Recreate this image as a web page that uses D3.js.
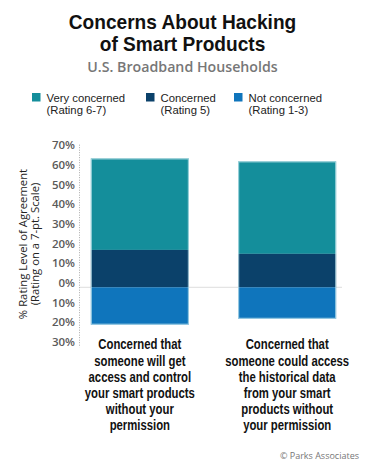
<!DOCTYPE html>
<html><head><meta charset="utf-8">
<script src="https://cdn.jsdelivr.net/npm/d3@7"></script>
<style>
body{margin:0;background:#fff;}
svg{display:block;}
</style></head>
<body>
<svg id="c" width="365" height="470"></svg>
<script>
const categories = [
  ["Concerned that","someone will get","access and control","your smart products","without your","permission"],
  ["Concerned that","someone could access","the historical data","from your smart","products without","your permission"]
];
const seriesNames = [["Very concerned","(Rating 6-7)"],["Concerned","(Rating 5)"],["Not concerned","(Rating 1-3)"]];
const veryConcerned = [46.5, 47];
const concerned = [19, 17];
const notConcerned = [19, 16];
const tickValues = [70,60,50,40,30,20,10,0,-10,-20,-30];
const colors = ["#148e9b","#0b416a","#0f75bc"];

const svg = d3.select("#c");
const font = "'Open Sans', sans-serif";
const catFont = "'Liberation Sans', Arial, sans-serif";

// Title
const tg = svg.append("g").attr("transform","translate(182.5,0) scale(0.98,1)");
const tt = tg.append("text").attr("text-anchor","middle")
  .attr("font-family",catFont).attr("font-weight",700).attr("font-size",19.5).attr("fill","#111");
tt.append("tspan").attr("x",0).attr("y",29).text("Concerns About Hacking");
tt.append("tspan").attr("x",0).attr("y",51).text("of Smart Products");
svg.append("text").attr("x",182.5).attr("y",72).attr("text-anchor","middle")
  .attr("font-family",font).attr("font-weight",600).attr("font-size",14.2).attr("fill","#777")
  .text("U.S. Broadband Households");

// Legend
const legX = [32, 146, 234];
seriesNames.forEach((s,i)=>{
  svg.append("rect").attr("x",legX[i]).attr("y",93).attr("width",8.5).attr("height",8.5).attr("fill",colors[i]);
  const t = svg.append("text").attr("font-family",catFont).attr("font-size",11.3).attr("fill","#222");
  s.forEach((line,j)=>{
    t.append("tspan").attr("x",legX[i]+14.5).attr("y",101.5+j*12.6).text(line);
  });
});

// Scales
const y = d3.scaleLinear().domain([-30,70]).range([346.3,149.6]);
const x = d3.scaleBand().domain([0,1]).range([82,345]).paddingInner(0.335).paddingOuter(0.06);

// Axis
const ax = svg.append("g").attr("transform","translate(79.5,0)")
  .call(d3.axisLeft(y).tickValues(tickValues).tickSize(0).tickPadding(4.5).tickFormat(d=>Math.abs(d)+"%"));
ax.select(".domain").remove();
ax.selectAll("text").attr("font-family",font).attr("font-weight",600).attr("font-size",11.5)
  .attr("fill","#5a5a5a").attr("dy","-0.08em");
svg.append("line").attr("x1",79.5).attr("x2",79.5).attr("y1",y(72.5)).attr("y2",y(-30.5))
  .attr("stroke","#aaa").attr("stroke-dasharray","1,1.5");

// zero line
svg.append("line").attr("x1",80).attr("x2",342).attr("y1",y(0)).attr("y2",y(0))
  .attr("stroke","#ddd").attr("stroke-width",1);

// Bars
const g = svg.append("g");
[0,1].forEach(i=>{
  const bw = x.bandwidth();
  const segs = [
    {y0: concerned[i], y1: concerned[i]+veryConcerned[i], c: colors[0]},
    {y0: 0, y1: concerned[i], c: colors[1]},
    {y0: -notConcerned[i], y1: 0, c: colors[2]}
  ];
  segs.forEach(s=>{
    g.append("rect").attr("x",x(i)).attr("width",bw)
      .attr("y",y(s.y1)).attr("height",y(s.y0)-y(s.y1)).attr("fill",s.c);
  });
  g.append("rect").attr("x",x(i)+0.5).attr("width",bw-1)
    .attr("y",y(concerned[i]+veryConcerned[i])+0.5).attr("height",y(-notConcerned[i])-y(concerned[i]+veryConcerned[i])-1)
    .attr("fill","none").attr("stroke","#c4e6ee").attr("stroke-width",1).attr("stroke-opacity",0.8);
  // category label
  const lg = svg.append("g").attr("transform",`translate(${x(i)+bw/2},0) scale(0.81,1)`);
  const t = lg.append("text").attr("text-anchor","middle")
      .attr("font-family",catFont).attr("font-weight",700).attr("font-size",14).attr("fill","#111");
  categories[i].forEach((line,j)=>{
    t.append("tspan").attr("x",0).attr("y",349.5+j*16.1).text(line);
  });
});

// Y axis title
const yt = svg.append("g").attr("transform","translate(0,244) rotate(-90)");
yt.append("text").attr("x",0).attr("y",27).attr("text-anchor","middle")
  .attr("font-family",font).attr("font-size",11.3).attr("fill","#222").text("% Rating Level of Agreement");
yt.append("text").attr("x",0).attr("y",39).attr("text-anchor","middle")
  .attr("font-family",font).attr("font-size",11.3).attr("fill","#222").text("(Rating on a 7-pt. Scale)");

// credit
svg.append("text").attr("x",359).attr("y",459).attr("text-anchor","end")
  .attr("font-family",font).attr("font-size",9).attr("fill","#777").text("© Parks Associates");
</script>
</body></html>
